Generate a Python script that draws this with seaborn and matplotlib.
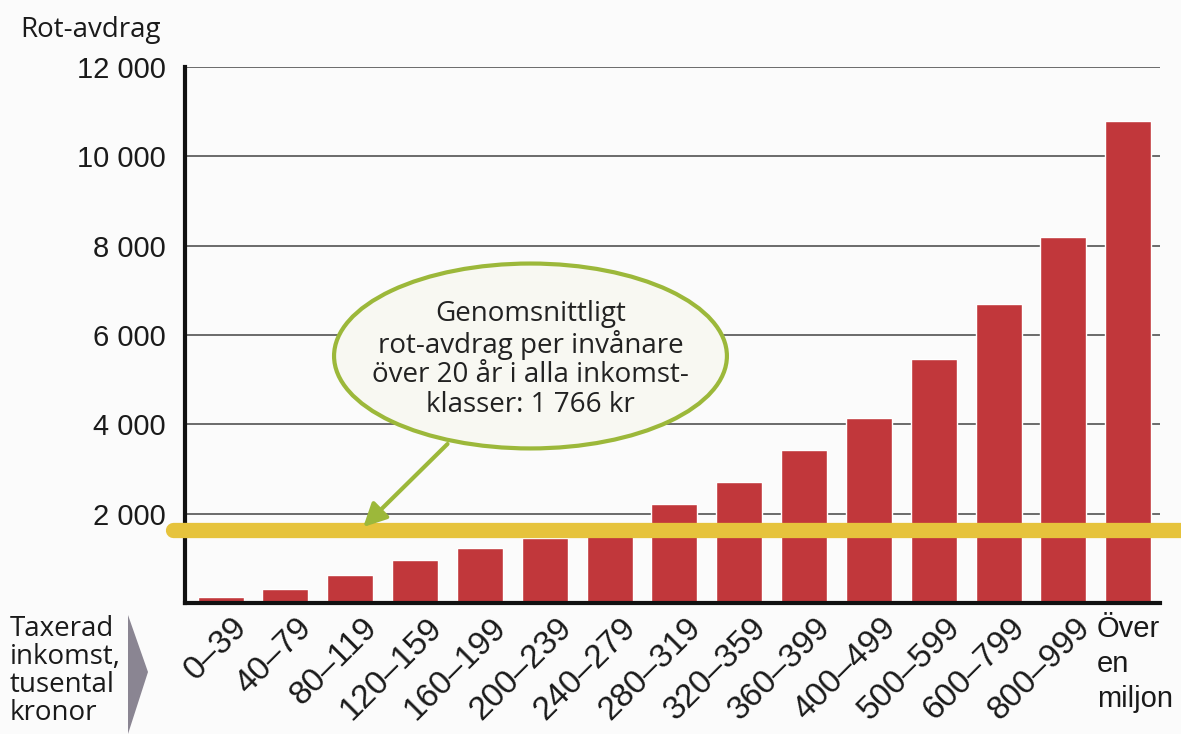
import numpy as np
import pandas as pd
import matplotlib
matplotlib.use("Agg")
import matplotlib.pyplot as plt
from matplotlib.patches import Ellipse, Polygon
import seaborn as sns

# data
klasser = ['0–39', '40–79', '80–119', '120–159', '160–199', '200–239', '240–279',
           '280–319', '320–359', '360–399', '400–499', '500–599', '600–799',
           '800–999', 'Över\nen\nmiljon']
avdrag = [130, 310, 630, 960, 1230, 1460, 1520, 2220, 2700, 3420, 4140, 5460,
          6690, 8190, 10800]
snitt = 1630  # where the yellow line sits (label says 1 766 kr)
y_ticks = [0, 2000, 4000, 6000, 8000, 10000, 12000]
y_labels = ['', '2 000', '4 000', '6 000', '8 000', '10 000', '12 000']

df = pd.DataFrame({'klass': klasser, 'avdrag': avdrag})

sns.set_style('white')
plt.rcParams['font.family'] = ['Liberation Sans', 'DejaVu Sans']

fig = plt.figure(figsize=(11.81, 7.34), dpi=100)
fig.patch.set_facecolor('#fbfbfb')
ax = fig.add_axes([0.1566, 0.1785, 0.8256, 0.7302])
ax.set_facecolor('#fbfbfb')

sns.barplot(data=df, x='klass', y='avdrag', color='#c1373b', saturation=1,
            width=0.71, ax=ax, zorder=2)

ax.set_ylim(0, 12000)
ax.set_xlim(-0.55, 14.49)
ax.set_yticks(y_ticks)
ax.set_yticklabels(y_labels, fontsize=21, color='#1a1a1a')
ax.yaxis.grid(True, color='#444444', lw=1.1)
ax.set_axisbelow(True)
ax.tick_params(axis='both', length=0, pad=14)
ax.set_xlabel('')
ax.set_ylabel('')
for s in ['top', 'right']:
    ax.spines[s].set_visible(False)
ax.spines['left'].set_linewidth(3)
ax.spines['bottom'].set_linewidth(3)
ax.spines['left'].set_color('#111111')
ax.spines['bottom'].set_color('#111111')

# x labels: rotated except the last one
ax.set_xticks(range(len(klasser)))
ax.set_xticklabels([])
for i, lab in enumerate(klasser):
    if i < len(klasser) - 1:
        ax.text(i + 0.17, -200, lab, rotation=45, ha='right', va='top',
                rotation_mode='anchor', fontsize=24, color='#1a1a1a')
    else:
        ax.text(i - 0.48, -280, lab, ha='left', va='top', fontsize=21,
                color='#1a1a1a', linespacing=1.3)

# average line, drawn past the axes
ax.axhline(snitt, xmin=-0.012, xmax=1.03, color='#e6c33c', lw=11,
           solid_capstyle='round', clip_on=False, zorder=5)

# speech bubble
green = '#9cb83a'
ax.add_patch(Ellipse((4.78, 5530), 6.06, 4140, facecolor='#f8f8f2',
                     edgecolor=green, lw=3, zorder=6))
ax.annotate('', xy=(2.2, 1700), xytext=(3.5, 3560),
            arrowprops=dict(arrowstyle='-|>,head_length=1.4,head_width=0.7',
                            color=green, lw=3, shrinkA=0, shrinkB=0), zorder=6)
ax.text(4.78, 5450, 'Genomsnittligt\nrot-avdrag per invånare\növer 20 år i alla inkomst-\nklasser: 1 766 kr',
        ha='center', va='center', fontsize=20, color='#222222', linespacing=1.08,
        family=['Open Sans', 'DejaVu Sans'], zorder=7)

# headers and side label
fig.text(20 / 1181, 1 - 30 / 734, 'Rot-avdrag', fontsize=20, va='center',
         ha='left', color='#1a1a1a', family=['Open Sans', 'DejaVu Sans'])
fig.text(10 / 1181, 1 - 615 / 734, 'Taxerad\ninkomst,\ntusental\nkronor',
         fontsize=20, va='top', ha='left', color='#1a1a1a', linespacing=1.0,
         family=['Open Sans', 'DejaVu Sans'])
fig.patches.append(Polygon([(128 / 1181, 1 - 615 / 734), (148 / 1181, 1 - 672 / 734),
                            (128 / 1181, 0)], closed=True, transform=fig.transFigure,
                           facecolor='#8a8592', edgecolor='none'))

plt.savefig('out.png', dpi=100, facecolor=fig.get_facecolor())
